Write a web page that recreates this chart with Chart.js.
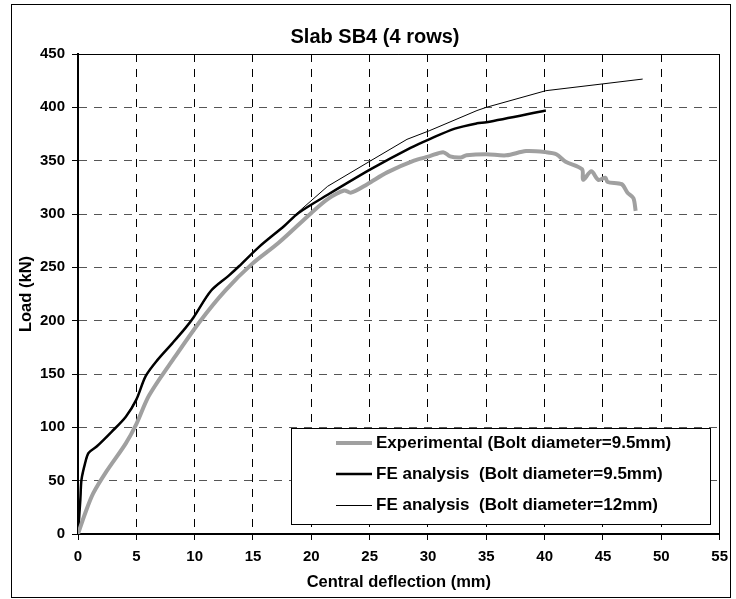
<!DOCTYPE html>
<html>
<head>
<meta charset="utf-8">
<title>Slab SB4 (4 rows)</title>
<script src="https://cdn.jsdelivr.net/npm/chart.js@4.4.1/dist/chart.umd.min.js"></script>
<style>
    html, body { margin: 0; padding: 0; background: #fff; }
    #wrap { position: relative; width: 736px; height: 599px; }
    #frame {
        position: absolute; left: 11px; top: 4px; width: 720px; height: 594px;
        box-sizing: border-box; border: 1px solid #000;
    }
    #chart { position: absolute; left: 0; top: 0; }
</style>
</head>
<body>
<div id="wrap">
    <div id="frame"></div>
    <canvas id="chart" width="736" height="599"></canvas>
</div>
<script>
// ── Data (deflection in mm, load in kN) ──
const expDefl = [0, 0.6, 1.3, 2.4, 4.1, 5.0, 6.1, 8.3, 10.5, 12.6, 14.9, 17.2, 20.0, 21.4, 22.8, 23.4, 24.8, 26.5, 28.8, 30.1, 31.3, 31.9, 32.8, 33.3, 35.0, 36.7, 38.4, 40.1, 41.0, 41.8, 43.2, 43.3, 44.0, 44.6, 45.2, 45.4, 46.6, 47.1, 47.6, 47.8];
const expLoad = [0, 19, 38, 58, 85, 103, 130, 166, 200, 228, 253, 273, 301, 314, 322, 320, 328, 339, 350, 354, 358, 354, 353, 355, 356, 355, 359, 358, 356, 349, 342, 332, 340, 332, 334, 330, 328, 320, 315, 303];

const fe95Defl = [0, 0.2, 0.3, 0.6, 0.9, 1.6, 2.9, 4.1, 5.0, 5.8, 6.8, 8.1, 9.2, 9.9, 11.4, 12.9, 13.8, 15.5, 17.7, 18.9, 21.4, 25.1, 28.5, 30.1, 32.3, 34.2, 35.0, 40.1];
const fe95Load = [0, 32, 51, 66, 76, 82, 96, 110, 126, 148, 163, 179, 193, 203, 228, 242, 251, 269, 289, 301, 318, 342, 362, 370, 380, 385, 386, 397];

const fe12Defl = [0, 0.2, 0.3, 0.6, 0.9, 1.6, 2.9, 4.1, 5.0, 5.8, 6.8, 8.1, 9.2, 9.9, 11.4, 12.9, 13.8, 15.5, 17.7, 18.9, 21.4, 25.1, 28.2, 30.1, 34.2, 35.0, 40.1, 45.0, 48.4];
const fe12Load = [0, 32, 51, 66, 76, 82, 96, 110, 126, 148, 163, 179, 193, 203, 228, 242, 251, 269, 289, 302, 326, 350, 370, 378, 397, 400, 415.6, 422, 426.5];

const seriesLabels = [
    'Experimental (Bolt diameter=9.5mm)',
    'FE analysis  (Bolt diameter=9.5mm)',
    'FE analysis  (Bolt diameter=12mm)'
];

const xMin = 0, xMax = 55, xStep = 5;
const yMin = 0, yMax = 450, yStep = 50;

function toPoints(xs, ys) {
    return xs.map((x, i) => ({ x: x, y: ys[i] }));
}

const FONT = "'Liberation Sans', Arial, Helvetica, sans-serif";
Chart.defaults.font.family = FONT;
Chart.defaults.font.weight = 'bold';
Chart.defaults.color = '#000';

// ── Plot frame (top edge) ──
const framePlugin = {
    id: 'frameTop',
    afterDraw(chart) {
        const { ctx, chartArea } = chart;
        ctx.save();
        ctx.strokeStyle = '#000';
        ctx.lineWidth = 1;
        ctx.beginPath();
        ctx.moveTo(chartArea.left, chartArea.top + 0.5);
        ctx.lineTo(chartArea.right, chartArea.top + 0.5);
        ctx.stroke();
        ctx.restore();
    }
};

// ── Boxed legend inside the plot area ──
const boxLegend = {
    id: 'boxLegend',
    afterDatasetsDraw(chart) {
        const { ctx, chartArea } = chart;
        const bx = chartArea.left + 213, by = chartArea.top + 374;
        const bw = 419, bh = 96;
        ctx.save();
        ctx.fillStyle = '#fff';
        ctx.fillRect(bx, by, bw, bh);
        ctx.strokeStyle = '#000';
        ctx.lineWidth = 1;
        ctx.strokeRect(bx + 0.5, by + 0.5, bw, bh);

        const rows = [15, 46, 77.5];
        chart.data.datasets.forEach((ds, i) => {
            const y = by + rows[i];
            ctx.strokeStyle = ds.borderColor;
            ctx.lineWidth = ds.borderWidth;
            ctx.beginPath();
            ctx.moveTo(bx + 45, y);
            ctx.lineTo(bx + 81, y);
            ctx.stroke();
            ctx.fillStyle = '#000';
            ctx.font = 'bold 17px ' + FONT;
            ctx.textBaseline = 'middle';
            ctx.textAlign = 'left';
            ctx.fillText(ds.label, bx + 85, y);
        });
        ctx.restore();
    }
};

new Chart(document.getElementById('chart'), {
    type: 'line',
    data: {
        datasets: [{
            label: seriesLabels[0],
            data: toPoints(expDefl, expLoad),
            borderColor: '#a0a0a0',
            borderWidth: 4,
            tension: 0.3
        }, {
            label: seriesLabels[1],
            data: toPoints(fe95Defl, fe95Load),
            borderColor: '#000',
            borderWidth: 2.5,
            tension: 0.3
        }, {
            label: seriesLabels[2],
            data: toPoints(fe12Defl, fe12Load),
            borderColor: '#000',
            borderWidth: 1,
            tension: 0
        }]
    },
    options: {
        responsive: false,
        animation: false,
        elements: { point: { radius: 0 } },
        layout: { padding: { left: 14, right: 0, top: 0, bottom: 0 } },
        plugins: {
            legend: { display: false },
            tooltip: { enabled: false },
            title: {
                display: true,
                text: 'Slab SB4 (4 rows)',
                color: '#000',
                font: { size: 20, weight: 'bold' },
                padding: { top: 25, bottom: 5 }
            }
        },
        scales: {
            x: {
                type: 'linear',
                min: xMin, max: xMax,
                ticks: { stepSize: xStep, padding: 8, font: { size: 15, weight: 'bold' }, color: '#000' },
                grid: {
                    color: '#000', lineWidth: 1,
                    tickLength: 6, tickColor: '#000', tickBorderDash: []
                },
                border: { color: '#000', width: 2, dash: [8, 7] },
                title: {
                    display: true, text: 'Central deflection (mm)', color: '#000',
                    font: { size: 16.5, weight: 'bold' }, padding: { top: 0, bottom: 7 }
                },
                afterFit(scale) { scale.height = 65; }
            },
            y: {
                type: 'linear',
                min: yMin, max: yMax,
                ticks: { stepSize: yStep, padding: 7, font: { size: 15, weight: 'bold' }, color: '#000' },
                grid: {
                    color: '#555', lineWidth: 1,
                    tickLength: 6, tickColor: '#000', tickBorderDash: []
                },
                border: { color: '#000', width: 2, dash: [8, 7] },
                title: {
                    display: true, text: 'Load (kN)', color: '#000',
                    font: { size: 16.5, weight: 'bold' }, padding: { top: 3, bottom: 0 }
                },
                afterFit(scale) { scale.width = 64; }
            },
            yRight: {
                type: 'linear',
                position: 'right',
                min: yMin, max: yMax,
                ticks: { display: false },
                grid: { drawOnChartArea: false, drawTicks: false },
                border: { color: '#000', width: 1 },
                afterFit(scale) { scale.width = 11; }
            }
        }
    },
    plugins: [framePlugin, boxLegend]
});
</script>
</body>
</html>
